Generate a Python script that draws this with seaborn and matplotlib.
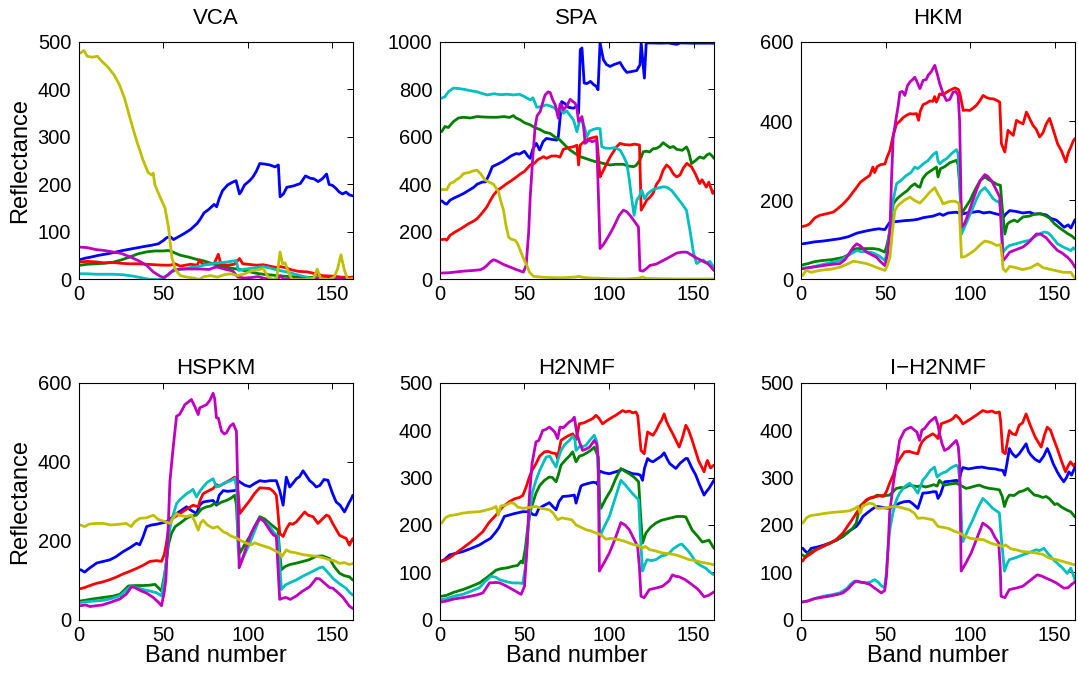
import matplotlib
matplotlib.use("Agg")
import matplotlib.pyplot as plt
import seaborn as sns
import pandas as pd

# ---------------- data (band number, reflectance) ----------------
SERIES = ["s1", "s2", "s3", "s4", "s5", "s6"]
COLORS = ["#0000FF", "#008000", "#FF0000", "#00BFBF", "#BF00BF", "#BFBF00"]
TITLES = ["VCA", "SPA", "HKM", "HSPKM", "H2NMF", "I\u2212H2NMF"]

VCA_BLUE = [(1,42),(4,45),(7,47),(12,51),(17,54),(21,57),(26,61),(32,65),(38,69),(43,72),(47,75),(50,82),(52,88),(54,90),(56,84),(59,90),(62,96),(66,105),(70,118),(72,128),(74,140),(77,148),(80,158),(81.5,153),(83,170),(85,187),(88,199),(91,205),(93,208),(95,180),(96,185),(98,199),(101,208),(103,216),(105,228),(107,244),(110,243),(113,241),(116,237),(118,241),(119,174),(121,180),(123,194),(127,197),(131,202),(134,218),(137,213),(139,212),(141.5,206),(144,212),(146.5,222),(148,200),(150,198),(152,192),(154,184),(156,180),(158,184),(160,178),(162,176)]
VCA_GREEN = [(1,30),(5,32),(10,33),(15,34),(20,36),(25,41),(30,47),(35,54),(40,58),(45,60),(50,60),(53,61),(56,57),(60,51),(65,47),(70,42),(74,39),(80,32),(85,28),(90,24),(95,21),(100,17),(105,13),(109,11),(115,9),(120,7),(125,6),(130,5),(140,4),(150,3),(162,3)]
VCA_RED = [(1,37),(5,38),(10,37),(15,35),(20,36),(25,34),(30,33),(35,33),(40,32),(45,31),(50,30),(54,30),(57,33),(60,28),(63,30),(66,32),(70,30),(71.5,41),(73,33),(76,32),(80,33),(82.5,53),(84,32),(88,30),(92,32),(95,44),(97,33),(100,32),(105,30),(109,31),(113,28),(117,25),(119,27),(122,25),(126,20),(130,17),(135,16),(140,12),(144,8),(150,7),(155,5),(160,4),(162,5)]
VCA_CYAN = [(1,12),(5,12),(10,11),(15,11),(20,11),(26,10),(32,7),(38,3),(42,0),(50,0),(52,8),(54,15),(58,20),(62,22),(66,25),(70,27),(74,30),(78,33),(82,35),(86,36),(90,38),(93,40),(94.5,19),(97,21),(101,23),(105,25),(109,27),(112,25),(115,22),(120,18),(125,14),(130,9),(133,6),(137,3),(142,1),(150,0),(162,0)]
VCA_MAGENTA = [(1,68),(5,67),(10,63),(15,61),(20,58),(25,55),(30,48),(35,40),(40,30),(44,16),(48,7),(50,4),(53,10),(56,20),(60,22),(66,22),(72,22),(77,21),(80,25),(82,26),(86,22),(91,18),(94,5),(98,3),(102,4),(106,6),(110,2),(115,0),(118,3),(119.5,8),(121,0),(125,0),(130,3),(135,0),(140,2),(145,0),(155,2),(162,1)]
VCA_YELLOW = [(1,477),(3,482),(5,470),(8,468),(11,470),(14,458),(17,448),(21,430),(24,410),(27,382),(30,343),(34,294),(38,251),(41,225),(43,220),(44,224),(45,199),(48,174),(51,150),(53,110),(55,47),(57,22),(60,8),(64,5),(68,3),(71,0),(74,6),(78,8),(82,5),(86,10),(90,12),(94,8),(98,12),(102,18),(106,20),(109,23),(112,5),(115,0),(117,2),(119,58),(120.5,33),(122,35),(124,15),(126,0),(130,0),(135,0),(139,3),(141,22),(143,2),(148,0),(151,5),(153,22),(155,52),(157,20),(159,0),(162,2)]

SPA_BLUE = [(1,331),(3,320),(4,317),(6,334),(9,345),(12,355),(14,362),(17,375),(20,388),(22,401),(25,410),(27,411),(29,440),(31,475),(34,485),(37,496),(40,510),(42,520),(45,530),(47,528),(50,540),(52,520),(53.4,510),(55,550),(57,573),(59,545),(61,580),(63,594),(66,590),(69,587),(70,600),(72,749),(74,740),(76,725),(79,721),(81,730),(82,700),(83,968),(84,975),(85.3,827),(87,825),(89,834),(91,820),(92.5,813),(93.5,799),(94.7,996),(96.7,925),(98.5,905),(100.6,897),(103,905),(106.5,914),(108.5,890),(110.5,872),(113,875),(116.4,880),(118.3,904),(119,996),(120.9,848),(122,996),(125,996),(130,995),(135,996),(140,990),(142,996),(150,995),(162,995)]
SPA_GREEN = [(1,622),(3,644),(5,640),(8,665),(11,680),(14,683),(18,680),(22,686),(26,684),(30,683),(34,683),(38,686),(41,682),(43.5,690),(45,680),(47.5,672),(50,660),(53.4,651),(56,640),(59,632),(62,620),(65.2,615),(68,600),(71,587),(74,565),(77,545),(80,530),(83,517),(86,510),(88.8,503),(91,498),(94.7,492),(97,488),(100.6,482),(104,485),(108.5,485),(111,478),(114.4,475),(116,480),(118.3,503),(120.3,538),(122,540),(124,537),(126,550),(128,552),(130,560),(132,576),(134,565),(136,555),(138,560),(140,548),(143.3,544),(145.8,558),(147,540),(148.8,488),(151,500),(153.6,516),(156,510),(158,525),(159.4,530),(161,520),(162,510)]
SPA_RED = [(1,168),(3,170),(4,165),(6,186),(9,200),(12,212),(14,221),(17,235),(20,246),(22,256),(25,280),(27.8,306),(30,335),(31.7,355),(34,375),(37,390),(39.6,404),(42,415),(45,430),(47.5,444),(50,455),(53.4,482),(56,490),(58,505),(61.3,517),(63,510),(66,520),(69,520),(71,515),(73,548),(76,555),(79,559),(81,565),(82,482),(83,566),(86,585),(88.8,594),(91,598),(92.7,601),(94.7,432),(96,450),(98.7,489),(101,520),(104.5,559),(106.5,573),(109,568),(112.4,566),(115,570),(118,566),(119,292),(120.5,310),(122.3,334),(124,345),(126,362),(128,400),(130,420),(132,460),(134,482),(136,470),(138,445),(140,432),(142,440),(144,470),(146,489),(148.8,474),(151,445),(153.6,404),(155,420),(157.5,389),(159,410),(161.4,362),(162,370)]
SPA_CYAN = [(1,763),(3,770),(5,790),(8,806),(11,804),(14,801),(18,795),(22,790),(25,783),(28,777),(32,782),(36,778),(40,780),(43.5,777),(47,780),(50,770),(53.4,756),(55,765),(57.3,725),(60,728),(63,735),(65,731),(67,725),(69,714),(71,720),(73,700),(75,710),(77,690),(79,672),(81,622),(82.5,665),(84,672),(85.5,640),(86.9,601),(88.5,625),(90.8,632),(93,636),(94.7,635),(95.7,559),(98,553),(100.6,552),(103.5,555),(106.5,545),(108.5,520),(110.5,489),(112,420),(113,362),(114.8,270),(116.4,334),(118,350),(119.3,376),(121,340),(123,362),(126,379),(129,385),(132,390),(134,389),(137,375),(140,347),(143,320),(145.8,291),(148,200),(150,110),(151.8,67),(153.5,75),(155.7,82),(157.5,70),(159.7,76),(161,60),(162,55)]
SPA_MAGENTA = [(1,27),(5,28),(10,32),(14,35),(20,38),(24,41),(26,48),(27.8,59),(30,75),(31.7,83),(33,80),(35,73),(38,62),(41.6,52),(45,42),(49.4,31),(51,60),(52.5,200),(53.4,348),(55,520),(56.3,644),(57.5,690),(59.3,707),(61,750),(62.2,777),(64,790),(65.2,787),(66.5,760),(68.2,735),(70,679),(71,739),(72,735),(73,714),(75,730),(77,759),(78.5,750),(80,742),(81,720),(82,665),(84,686),(85,640),(85.9,573),(88,587),(90,580),(92.7,587),(94.7,130),(97,150),(100.6,193),(103,225),(106,270),(108.5,292),(110.5,285),(112.4,270),(115,245),(117.4,221),(118.3,38),(120,35),(122,45),(124.2,59),(128,65),(132,80),(136,95),(140,111),(143,115),(146,115),(150.8,94),(154,82),(158.5,66),(160,55),(162,38)]
SPA_YELLOW = [(1,379),(4,378),(6,404),(8,410),(10,421),(12,430),(14,446),(17,450),(20,458),(22,460),(24,446),(26.8,418),(29,410),(31.7,401),(34.7,369),(36,330),(37.6,292),(39,230),(40.6,179),(42,170),(44.5,165),(46,150),(47.5,123),(49,95),(51.4,59),(53,30),(55.4,13),(60,10),(65,8),(70,7),(75,8),(80,10),(82,13),(85,8),(90,6),(95,5),(100,3),(110,2),(117,5),(120,10),(122,4),(130,3),(140,2),(150,2),(162,2)]

HKM_BLUE = [(1,90),(4,92),(8,95),(13,97),(18,100),(23,103),(28,108),(33,117),(38,122),(42.7,126),(46,128),(49.6,126),(51,135),(52.6,145),(56,146),(60,148),(62.4,149),(66,150),(69,152),(72.2,156),(75,158),(78,160),(82,166),(84,162),(87,168),(91.9,170),(95,165),(98,168),(101.8,170),(105,172),(108,168),(111.6,170),(115,166),(118,163),(119.5,156),(121,165),(123.4,174),(127,172),(131,168),(135.2,170),(138,165),(141,166),(145,163),(147.8,154),(151,150),(155.6,132),(158,138),(159.6,130),(162,151)]
HKM_GREEN = [(1,37),(4,40),(8,45),(13,48),(18,50),(23,54),(25,56),(28,62),(31,75),(33,78),(38,78),(42.7,78),(46,76),(49.6,69),(51,90),(52.6,124),(54.5,191),(57,205),(60.4,217),(63,225),(65,235),(67.3,242),(69,235),(70.3,233),(72,255),(74.2,267),(77,275),(80.1,284),(81,259),(82.5,280),(85,285),(88,295),(91.9,301),(92.9,290),(93.8,240),(94.9,166),(97,180),(100,200),(101.8,217),(104,235),(106,250),(108.7,259),(111,252),(113.6,246),(116,240),(117.9,238),(119,180),(120.5,115),(122,140),(123.4,145),(126,150),(128,146),(131.3,158),(135,160),(138,165),(141.9,166),(145,160),(147,155),(149.8,141),(153,130),(157.6,116),(160,110),(162,103)]
HKM_RED = [(1,134),(3,136),(5,140),(8,155),(11,162),(15,166),(19,170),(22,180),(25,191),(28,205),(31,222),(33,233),(35,245),(37,252),(39,258),(40.7,263),(42.5,284),(43.5,270),(45,285),(47,290),(49.6,292),(51,310),(52.6,326),(54.5,364),(56.5,393),(58.5,400),(60.4,409),(62.5,415),(64.4,419),(66,418),(68.3,419),(69.5,402),(70.5,425),(72.2,442),(74,445),(76.2,451),(78,450),(79,462),(80,448),(81,457),(82,469),(84,466),(86,473),(88,478),(91,484),(93,480),(94,469),(95.9,427),(97.5,428),(99.8,427),(101.5,432),(103.7,440),(105.5,450),(107.7,465),(109.5,460),(111.6,457),(114,456),(116,452),(117.5,448),(118.5,343),(120.5,322),(122.4,377),(124,370),(125.5,364),(127.4,402),(129,398),(131.3,393),(133.3,423),(135,408),(137.2,389),(139,380),(141.1,360),(143,370),(145,393),(147,407),(149,380),(151.7,343),(154,325),(156.6,297),(158,320),(159.6,335),(161,350),(162,356)]
HKM_CYAN = [(1,29),(5,30),(10,35),(15,40),(20,45),(23,48),(27,58),(30,66),(33,73),(36,70),(39,70),(42.7,67),(46,60),(49.6,48),(51,70),(52.6,132),(54.5,200),(56.5,242),(59,250),(62.4,263),(65,270),(67.3,284),(69,280),(70.5,285),(72.2,292),(75,300),(78,315),(80.1,322),(81,300),(82,292),(84,300),(86,305),(89,318),(91.9,328),(92.9,318),(93.8,250),(94.9,115),(97,135),(100,165),(101.8,183),(104,205),(106,222),(108.7,232),(111,220),(113.6,204),(115.5,198),(117.5,195),(118.5,150),(119.5,69),(121.5,80),(123.4,86),(127,90),(131,95),(135.2,99),(138,108),(141,115),(143.8,120),(146,118),(148,110),(151.7,90),(155,82),(159.6,73),(161,80),(162,76)]
HKM_MAGENTA = [(1,27),(5,30),(10,33),(13,35),(18,38),(23,40),(26,50),(29,69),(31,82),(33,90),(35,85),(38.8,69),(42,62),(44.7,56),(47,45),(49.6,35),(51,60),(52.6,124),(53.5,250),(54.5,360),(56.5,414),(57.5,440),(58.5,473),(60,475),(61.4,465),(63,490),(64.4,499),(66,505),(67.3,511),(68.5,500),(70.3,482),(72.2,503),(74,505),(75.2,516),(77,525),(79.1,541),(80.5,520),(82,495),(84,470),(86,452),(88,455),(89.9,473),(91.5,475),(92.9,465),(93.8,400),(94.9,132),(96.5,140),(97.8,153),(100,180),(103.7,225),(106,250),(108.7,265),(110.5,260),(112.6,250),(115,230),(117.5,208),(118.5,120),(119.5,48),(121,55),(123.4,69),(127,75),(131.3,82),(135,95),(139.2,115),(141.9,114),(145,105),(148,90),(151.7,73),(154,68),(157.6,56),(160,45),(162,31)]
HKM_YELLOW = [(1,10),(3,23),(6,18),(10,22),(13,24),(18,26),(23,31),(27,38),(30.9,46),(34,44),(38.8,40),(42,35),(46,28),(49.6,23),(51,35),(52.6,56),(54,120),(55.5,174),(57,185),(58.5,191),(61,200),(64.4,208),(67,200),(70.3,193),(73,205),(76,220),(79.1,232),(81,215),(82.5,205),(84,191),(87,196),(89.9,198),(92,196),(93.5,191),(94.9,56),(97,58),(99.8,65),(103,75),(106,88),(108.7,97),(111,95),(113,92),(115.6,86),(118,88),(118.8,60),(119.5,27),(121,20),(123.4,33),(127,30),(131,25),(135.2,29),(138,35),(139.9,40),(143,30),(147.8,25),(151,22),(155,18),(159.6,18),(161,8),(162,5)]

HSPKM_BLUE = [(1,127),(3.5,121),(6,130),(10.6,144),(14.5,148),(18.4,152),(22,160),(26.3,173),(30,182),(34.2,194),(36,190),(38,210),(40.1,236),(43,240),(46,242),(48,244),(51.9,248),(54,255),(57.8,269),(60,275),(63.7,286),(66,278),(69.6,269),(71.5,290),(73.5,298),(76,300),(79.4,302),(81.4,290),(83,315),(85.4,327),(88,325),(92.2,327),(93.5,330),(94.2,352),(96.5,345),(98.5,340),(101.1,337),(104,345),(107,352),(110,350),(113,352),(116.8,352),(118.8,327),(120.8,290),(122.7,361),(124.7,336),(126.5,345),(128.7,357),(130.5,362),(132.6,377),(134.5,365),(136.5,352),(138.5,345),(140.4,336),(142.5,340),(145,355),(147.3,353),(150,320),(152.2,298),(154.5,290),(157.1,273),(158.5,285),(160,298),(161,305),(162,315)]
HSPKM_GREEN = [(1,48),(4,50),(8,53),(14.5,57),(20,60),(24.3,65),(27,76),(29.3,86),(33,87),(38.1,87),(42,88),(45,90),(47,82),(48.9,73),(50.5,110),(51.5,136),(53,190),(54.8,219),(57,236),(60,245),(63.7,257),(66,262),(69.6,265),(72.5,280),(75.5,286),(78,288),(80,294),(82,292),(84.5,298),(87.3,302),(90,308),(92.2,315),(93.2,290),(94.2,200),(95.2,169),(98,190),(101.1,211),(104,236),(107,261),(110,255),(112.9,244),(115.5,235),(117.8,227),(118.8,170),(119.8,127),(122,135),(124.7,140),(128,143),(132.6,148),(136,152),(140.4,161),(144,162),(148.3,155),(151,135),(154.2,118),(157,112),(160,109),(162,101)]
HSPKM_RED = [(1,79),(3.5,82),(6.6,87),(10,92),(14,96),(18.4,102),(22,108),(26,116),(30.2,123),(34,130),(38,138),(42,148),(46,150),(48.9,148),(50.5,165),(51.5,186),(53.9,252),(56,258),(59.8,269),(63,278),(67.6,290),(70.6,286),(72,305),(73.5,319),(76,325),(79.4,332),(81.4,342),(83,338),(85.4,344),(88,350),(90,355),(92.2,361),(93.5,350),(94.2,320),(95.2,269),(98,285),(101.1,302),(104,320),(107,334),(110,333),(112.9,332),(115,325),(116.8,315),(117.8,270),(118.8,219),(120.8,211),(122.7,230),(124.7,244),(126.5,242),(128.7,248),(131,260),(133.6,273),(135.5,265),(138.5,261),(141.4,244),(144,255),(146.4,265),(148,262),(150,245),(152,230),(154.2,214),(156,210),(158.1,206),(160,189),(162,206)]
HSPKM_CYAN = [(1,44),(4,46),(10,48),(15,50),(20,55),(24.3,61),(28,75),(31.2,86),(34,82),(38.1,77),(42,73),(45.9,69),(48.9,61),(50.5,100),(51.5,140),(53,210),(54.8,252),(57.8,294),(60,305),(63.7,319),(66,325),(67.5,330),(69.6,311),(71.5,325),(73.5,336),(76,348),(79.4,357),(81.4,336),(83.5,340),(87.3,348),(90,352),(92.2,358),(93.5,330),(94.2,180),(95.2,144),(98,165),(101.1,194),(104,225),(107,257),(110,248),(112.9,236),(115.5,220),(117.8,211),(118.8,140),(119.8,77),(122,88),(124.7,94),(128,100),(132.6,111),(137,120),(142.4,132),(144.3,134),(148.3,115),(150.3,105),(154,92),(158.1,80),(160,70),(162,63)]
HSPKM_MAGENTA = [(1,36),(4,38),(6.6,34),(10,36),(14,38),(18.4,44),(21,48),(24.3,53),(28,65),(31.2,84),(33,82),(37.1,73),(40,68),(44,57),(47,45),(48.9,36),(50.5,70),(51.5,102),(53,250),(53.9,352),(55.8,436),(57.8,515),(59.5,519),(61,530),(62.7,544),(64.5,550),(66.6,557),(68.5,540),(69.5,530),(70.6,519),(71.5,536),(73.5,540),(75.5,544),(77.5,555),(79.4,573),(80.3,560),(81.4,511),(82.5,510),(84.4,477),(86,470),(87.3,473),(89.5,490),(91.3,496),(93.2,477),(94.2,300),(94.8,132),(96.5,150),(99.1,186),(102,220),(104.5,240),(107,257),(109.5,250),(112.9,227),(115,215),(116.8,211),(117.8,130),(118.8,52),(120.5,55),(122.5,57),(125,52),(128.7,61),(132,72),(136.5,84),(140.4,105),(142.4,104),(145,94),(148.3,82),(150.3,80),(153,70),(156,58),(158.1,46),(160,35),(162,29)]
HSPKM_YELLOW = [(1,240),(3.5,236),(6,242),(10,244),(14.5,244),(19,240),(24.3,242),(28,244),(31,236),(33,248),(36.2,257),(40,258),(44,265),(47,254),(50,250),(53.9,244),(55.5,255),(57.8,269),(60,264),(63.7,261),(66.6,265),(68.5,250),(70.6,227),(72,245),(73.5,252),(76,240),(79.4,232),(82,236),(85.4,223),(88,218),(90,212),(93.2,207),(96,200),(99.1,194),(102,190),(104,195),(107,190),(110,186),(112.9,182),(116,175),(118.8,169),(120,160),(122.7,177),(125,172),(128,170),(132.6,165),(136,163),(140.4,161),(144,158),(148.3,152),(151,150),(154.2,143),(157,145),(160,140),(162,143)]

H2NMF_BLUE = [(1,124),(3,128),(5.7,137),(9,140),(13.5,144),(18,150),(23.4,158),(27,166),(30,172),(33.2,186),(35,195),(38.1,218),(41,221),(44,224),(49,228),(53,228),(55,222),(56.8,221),(58.5,235),(61,240),(64.7,247),(66.5,240),(68.7,232),(70.5,250),(72.6,260),(76,261),(79.5,263),(80.5,246),(82,265),(83.4,282),(85,285),(88.3,288),(90.5,290),(92.3,289),(93.3,285),(94.3,314),(97,310),(100.2,308),(104,312),(108,317),(111,312),(113.9,308),(117,307),(118.5,305),(119.8,294),(121,320),(122.8,340),(124.5,335),(126,333),(128,338),(129.7,342),(131,345),(132.6,352),(134.5,338),(136,329),(139.5,319),(142,330),(145.4,340),(146.4,340),(149,320),(151.3,305),(153.5,285),(156.2,263),(157.5,270),(159.1,277),(162,294)]
H2NMF_GREEN = [(1,50),(4,52),(8,58),(13.5,64),(18,70),(23.4,78),(28,90),(33.2,105),(36,108),(40,110),(43.1,113),(46,115),(48,124),(49,120),(50.5,150),(51.8,190),(53.5,230),(56.8,267),(59,283),(61.8,294),(64.7,301),(66.5,300),(68.7,291),(70,305),(71.6,326),(74,336),(76.5,345),(78.5,354),(80.5,333),(82.5,345),(84.4,347),(87,352),(89.5,358),(91.3,364),(92.8,350),(93.6,343),(94.5,250),(95.2,235),(98,255),(101.2,274),(104,298),(107,319),(109.5,313),(112,308),(115,300),(117.5,291),(118.5,230),(119.8,162),(121.8,183),(124.5,195),(127.7,204),(131,210),(135.6,214),(140,218),(143.5,218),(145.4,217),(147,205),(149.2,189),(152,178),(155.2,164),(157,166),(159.1,168),(160.5,160),(162,151)]
H2NMF_RED = [(1,124),(3.5,127),(6,132),(9.6,141),(13,150),(17.5,162),(21,172),(25.4,186),(29,205),(33.2,221),(37,238),(41.1,249),(44,255),(47,258),(49,262),(51,280),(52.9,301),(54.5,315),(56.8,329),(59,345),(61.8,354),(64,355),(66,352),(68.7,350),(69.5,340),(71.6,378),(74,384),(76,388),(78.5,392),(80.5,380),(82.4,413),(85,415),(88,420),(90.3,424),(92.3,431),(94,425),(96.2,413),(98,418),(101,425),(104,431),(106,436),(108,441),(110,438),(112,440),(114,436),(115.9,438),(117,430),(118.9,357),(120.8,350),(122.8,396),(124.5,392),(126,389),(128,400),(129.7,413),(131,420),(132.6,434),(134,418),(135.6,406),(138,390),(141.5,364),(143.5,385),(145.4,410),(147,400),(149,380),(151.3,354),(153,335),(156.2,312),(157.5,330),(158.2,336),(160,320),(162,326)]
H2NMF_CYAN = [(1,43),(4,45),(8,50),(13.5,54),(18,60),(23.4,68),(27,82),(30.3,92),(33,90),(35.2,85),(40,80),(43.1,78),(46,78),(49,77),(50.5,110),(51.5,160),(52.9,225),(54.8,270),(56.8,294),(59,315),(62.8,343),(65,345),(66.5,335),(68.7,322),(70,340),(71.6,357),(74,370),(76.5,378),(78.5,387),(79.8,380),(80.5,357),(82.5,365),(84.5,365),(86.4,368),(88.5,378),(91.3,389),(92.8,375),(93.6,310),(94.6,176),(97,195),(100.2,218),(103.5,255),(107,294),(109.5,285),(112,274),(115,262),(117.5,253),(118.5,180),(119.8,103),(121,115),(122.5,127),(125,125),(127.7,127),(131,135),(133.6,137),(135.6,141),(138,150),(141.4,158),(143,160),(146.4,147),(149,135),(151.3,122),(154,115),(157.2,109),(160,100),(162,95)]
H2NMF_MAGENTA = [(1,38),(4,40),(8,44),(13.5,47),(18,50),(22,53),(25.4,57),(29.3,78),(33,79),(35.5,78),(39,72),(43.1,64),(46,58),(48,54),(50,71),(51.5,150),(52.9,260),(54.5,330),(56.8,375),(58.5,378),(60.8,399),(62.5,401),(64.7,406),(66.5,401),(68,395),(69.6,382),(71,406),(73,405),(76.5,417),(78,420),(79.5,427),(81,392),(82.5,375),(84.4,357),(86.5,360),(88.5,364),(91.3,378),(92.8,370),(93.6,340),(94.3,103),(97,120),(100.2,141),(103.5,170),(107,205),(109.5,200),(112,190),(114.5,172),(116.9,155),(118,110),(118.9,50),(120.8,47),(123.8,64),(127.5,67),(131.6,71),(135.5,82),(137.5,95),(139.5,92),(141.4,91),(145,85),(149.2,74),(152.5,65),(156.2,49),(159,52),(162,59)]
H2NMF_YELLOW = [(1,204),(3.5,216),(6,220),(10,222),(13.5,225),(18,227),(23.4,228),(28,232),(31,235),(33.2,239),(34.5,221),(36,240),(39,242),(42.1,247),(44,245),(46,238),(49,235),(53,237),(56.8,239),(60,235),(64.7,232),(67,225),(69.6,211),(72,215),(75,213),(78,211),(80.5,200),(83,196),(86.4,190),(89,188),(92.3,183),(95,180),(98.2,170),(101,172),(104,170),(106,169),(109,166),(112,162),(115,158),(117,157),(119.8,151),(121.5,155),(124,148),(127,146),(131.6,141),(135,140),(139.5,137),(143,133),(147.4,127),(151,125),(154,122),(157,120),(160,118),(162,116)]

IH2NMF_BLUE = [(1,151),(2.5,145),(4,141),(6,151),(9,153),(13,157),(17,162),(21,168),(24.8,176),(28,186),(30.5,192),(32.7,197),(34.5,205),(36.6,218),(39,225),(41.5,232),(44.5,239),(47,238),(49.5,236),(52.4,235),(55,240),(58.3,246),(61,249),(64,250),(66,245),(69.1,235),(70.5,250),(72,267),(75,268),(78,270),(79.9,270),(81,256),(82.5,265),(84.9,291),(88,292),(90,293),(91.8,294),(93.5,292),(94.5,310),(95.7,321),(99,318),(103.6,321),(107,322),(111.4,319),(115,318),(117,316),(119.3,315),(120.5,305),(121.8,330),(123.2,361),(125,350),(127,343),(129,350),(131,360),(133.1,371),(134.5,355),(136,347),(138.5,338),(141,333),(143.5,345),(145.6,361),(147,350),(149,330),(151.5,312),(153.5,300),(155.4,291),(157,300),(158.4,312),(160,305),(162,322)]
IH2NMF_GREEN = [(1,137),(2.5,132),(4,140),(8,147),(12,153),(17,162),(21,168),(24.8,176),(28,185),(30.5,193),(32.7,204),(34.7,239),(37,247),(40.6,256),(43,258),(45,263),(48.4,260),(50,262),(52.4,263),(54.5,270),(56.3,277),(59,279),(61,278),(64.2,284),(66.5,282),(69.1,281),(71,283),(73.5,280),(76,282),(78.5,285),(80.5,282),(81.9,294),(83.5,288),(85,284),(88,286),(91.8,288),(94,284),(97.7,277),(100,279),(103,282),(105.5,284),(108,280),(111.4,277),(114,276),(117.3,274),(119,260),(120.3,239),(121.8,255),(123.2,263),(126,262),(129.1,270),(131.5,272),(134.1,277),(136,270),(138,263),(140,262),(142.9,258),(145,260),(147,255),(150,243),(151.5,245),(154,238),(157.4,231),(159.5,228),(162,217)]
IH2NMF_RED = [(1,124),(2,130),(3.5,134),(6,140),(9.1,148),(13,155),(17,161),(21,170),(24.8,183),(28,200),(30,210),(32.7,225),(35.5,240),(38.6,253),(41.5,258),(44.5,260),(47,262),(49,262),(50.5,270),(52.4,288),(54.5,305),(56.3,326),(58.5,340),(61.2,354),(64,355),(66.5,352),(69.1,350),(70.3,365),(71.6,375),(74,384),(76,388),(77.9,392),(79.5,388),(81,382),(82.9,413),(85,416),(88,420),(89.8,424),(91.5,431),(93.5,425),(95.7,413),(98,418),(101,425),(103.6,431),(105.5,436),(107.5,441),(110,438),(113,440),(115,436),(117.3,438),(118,420),(119.3,354),(120.8,350),(123.2,399),(125,392),(127,390),(129,410),(131,415),(133.1,434),(134.5,420),(136,406),(138.5,385),(142,364),(144,390),(145.6,406),(147.5,400),(149.5,380),(151.5,361),(154,335),(156.4,312),(158,325),(159.4,333),(161,325),(162,329)]
IH2NMF_CYAN = [(1,38),(4,40),(8,45),(13,50),(18,53),(22.9,57),(27,66),(29.5,76),(31.7,82),(34,80),(38.6,78),(41,80),(43.5,85),(45.5,80),(47.5,72),(49.4,68),(50.5,100),(51.5,155),(52.5,190),(54.3,225),(56.3,252),(58.3,267),(61,280),(64.2,288),(66.5,280),(69.1,267),(70.5,280),(72,294),(74.5,305),(76.5,315),(78.9,322),(80.5,301),(82,306),(84,310),(85.8,312),(88.5,320),(91.8,326),(93,322),(94,290),(95.2,180),(95.7,165),(98.5,188),(101.6,211),(104.5,235),(107.5,256),(110,248),(113.4,235),(115.5,230),(117.3,225),(118.5,170),(120.3,103),(121.8,118),(123.2,127),(126,130),(131.1,137),(135,142),(139,148),(141,146),(143.6,151),(146,140),(149.5,126),(152,118),(155,108),(157.4,98),(159.5,109),(161,95),(162,84)]
IH2NMF_MAGENTA = [(1,38),(4,40),(8,45),(13,48),(18,51),(22,54),(24.8,57),(28,66),(30.5,76),(32.7,82),(35,80),(38,78),(40.6,75),(44,66),(47.5,57),(49.5,62),(50.5,90),(51.5,150),(52.4,225),(54.5,285),(56.3,329),(58.3,378),(61.2,399),(63,403),(65,406),(67,400),(68.5,396),(70.1,378),(71.5,400),(73,403),(76,417),(78,423),(79.5,427),(81,410),(81.9,392),(83.5,370),(84.9,357),(87,361),(89.5,370),(91.8,378),(93,365),(93.8,330),(94.7,103),(97.5,120),(100.6,141),(104,172),(107.5,204),(110,198),(112.4,190),(114.5,175),(116.9,162),(117.8,110),(118.3,50),(120.5,47),(123.2,64),(127,67),(131.1,71),(135,82),(139.7,95),(142,93),(145,88),(147.6,84),(151,78),(155.4,67),(158,68),(160,75),(162,80)]
IH2NMF_YELLOW = [(1,204),(3.5,216),(6,220),(10,222),(15,225),(20,227),(24,228),(28.8,230),(32,235),(33.5,239),(35,225),(36.5,240),(40.6,246),(43,244),(45,235),(50,236),(53,238),(56.3,239),(60,236),(64,232),(67,225),(69.1,214),(72,215),(75,213),(78,211),(81,197),(84,195),(87,193),(90,188),(93.7,183),(96,178),(100,172),(104,170),(108,169),(112,162),(116,158),(119.3,155),(121,158),(124,150),(128,147),(131,144),(135,143),(139,141),(143,138),(147,130),(151,127),(155,123),(158,120),(160,118),(162,116)]

PANEL_SERIES = [
    [VCA_BLUE, VCA_GREEN, VCA_RED, VCA_CYAN, VCA_MAGENTA, VCA_YELLOW],
    [SPA_BLUE, SPA_GREEN, SPA_RED, SPA_CYAN, SPA_MAGENTA, SPA_YELLOW],
    [HKM_BLUE, HKM_GREEN, HKM_RED, HKM_CYAN, HKM_MAGENTA, HKM_YELLOW],
    [HSPKM_BLUE, HSPKM_GREEN, HSPKM_RED, HSPKM_CYAN, HSPKM_MAGENTA, HSPKM_YELLOW],
    [H2NMF_BLUE, H2NMF_GREEN, H2NMF_RED, H2NMF_CYAN, H2NMF_MAGENTA, H2NMF_YELLOW],
    [IH2NMF_BLUE, IH2NMF_GREEN, IH2NMF_RED, IH2NMF_CYAN, IH2NMF_MAGENTA, IH2NMF_YELLOW],
]
Y_MAX = [500, 1000, 600, 600, 500, 500]
Y_STEP = [100, 200, 200, 200, 100, 100]
X_TICKS = [0, 50, 100, 150]

# ---------------- style ----------------
sns.set_theme(style="white")
FONT = ["Liberation Sans", "DejaVu Sans"]
plt.rcParams.update({
    "font.family": FONT,
    "axes.edgecolor": "black",
    "axes.linewidth": 0.8,
    "xtick.direction": "in",
    "ytick.direction": "in",
    "xtick.top": True,
    "ytick.right": True,
    "xtick.major.size": 4,
    "ytick.major.size": 4,
    "xtick.major.width": 0.7,
    "ytick.major.width": 0.7,
    "xtick.major.pad": 4,
    "ytick.major.pad": 5.5,
    "xtick.labelsize": 14.5,
    "ytick.labelsize": 14.5,
    "xtick.color": "black",
    "ytick.color": "black",
    "text.color": "black",
    "axes.labelcolor": "black",
})

fig, axes = plt.subplots(2, 3, figsize=(10.78, 6.75), dpi=100)
fig.subplots_adjust(left=0.0731, right=0.9972, bottom=0.0815, top=0.9378,
                    wspace=0.318, hspace=0.434)

for i, ax in enumerate(axes.flat):
    rows = []
    for name, pts in zip(SERIES, PANEL_SERIES[i]):
        for order, (b, v) in enumerate(pts):
            rows.append({"band": b, "value": v, "series": name, "order": order})
    df = pd.DataFrame(rows)
    sns.lineplot(data=df, x="band", y="value", hue="series", hue_order=SERIES,
                 palette=COLORS, estimator=None, sort=False, legend=False,
                 linewidth=2.0, ax=ax)
    ax.set_xlim(0, 162)
    ax.set_ylim(0, Y_MAX[i])
    ax.set_xticks(X_TICKS)
    ax.set_yticks(list(range(0, Y_MAX[i] + 1, Y_STEP[i])))
    ax.set_title(TITLES[i], fontsize=16, pad=(13 if i < 3 else 6))
    ax.set_xlabel("Band number" if i >= 3 else "", fontsize=17, labelpad=0)
    ax.set_ylabel("Reflectance" if i % 3 == 0 else "", fontsize=17, labelpad=5)
    for s in ax.spines.values():
        s.set_visible(True)
        s.set_color("black")
    ax.grid(False)

fig.savefig("out.png", dpi=100)
